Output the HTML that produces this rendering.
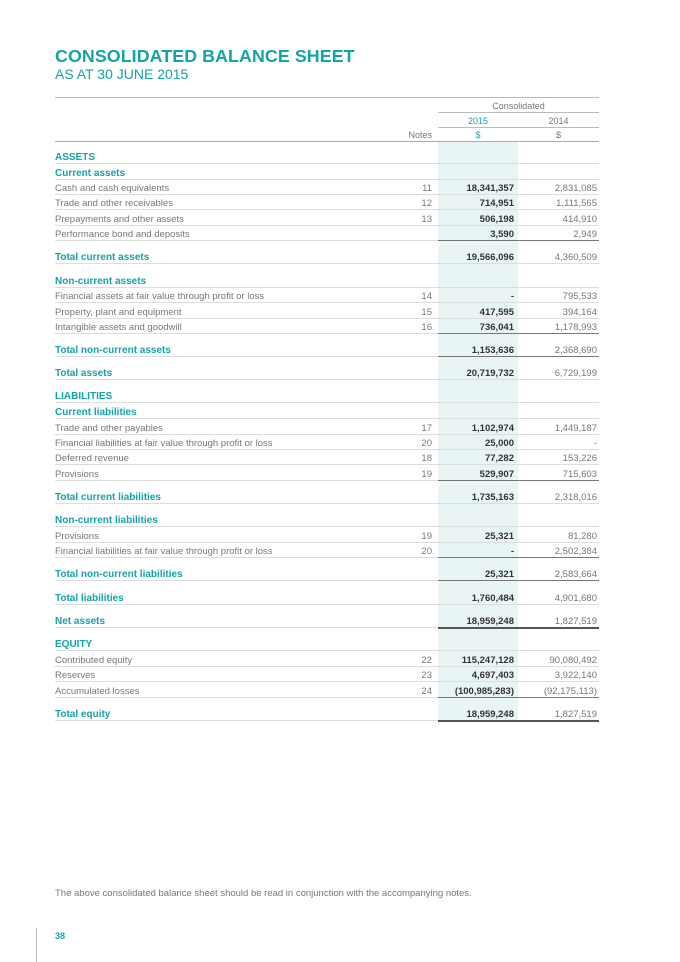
<!DOCTYPE html>
<html><head><meta charset="utf-8"><style>
body{margin:0;background:#fff;}
#p{position:relative;width:680px;height:962px;overflow:hidden;font-family:"Liberation Sans",sans-serif;}
.t{position:absolute;left:55px;top:46px;font-size:17.8px;font-weight:bold;color:#14a3a6;letter-spacing:0.1px}
.s{position:absolute;left:55px;top:66px;font-size:14px;color:#14a3a6}
.shade{position:absolute;left:438px;top:141px;width:80px;height:580px;background:#e9f5f5}
.r{position:absolute;left:55px;width:544px;height:15px;line-height:15px;font-size:9.5px;color:#777;border-bottom:1px solid #ddd}
.r span{position:absolute;top:2px}
.l{left:0}
.n{right:167px;text-align:right}
.a{right:85px;font-weight:bold;color:#333}
.b{right:2px}
.h{color:#14a3a6;font-weight:bold;font-size:10px}
.ln{position:absolute;height:0}
.d{position:absolute;left:438px;width:161px;height:0;border-top:1px solid #777}
</style></head><body><div id="p">
<div class="t">CONSOLIDATED BALANCE SHEET</div>
<div class="s">AS AT 30 JUNE 2015</div>
<div class="shade"></div>
<div class="ln" style="left:55px;top:97px;width:544px;border-top:1px solid #bbb"></div>
<div class="r" style="top:97px;left:438px;width:161px;text-align:center;border-bottom:1px solid #bbb;font-size:9px"><span style="left:0;width:161px;text-align:center">Consolidated</span></div>
<div class="r" style="top:112px;left:438px;width:161px;border-bottom:1px solid #bbb;font-size:9px"><span style="left:0;width:80px;text-align:center;color:#14a3a6">2015</span><span style="left:80px;width:81px;text-align:center">2014</span></div>
<div class="r" style="top:126px;border-bottom:1px solid #aaa;font-size:9px"><span class="n">Notes</span><span style="left:383px;width:80px;text-align:center;color:#14a3a6">$</span><span style="left:463px;width:81px;text-align:center">$</span></div>

<div class="r" style="top:148px"><span class="l h">ASSETS</span></div>
<div class="r" style="top:164px"><span class="l h">Current assets</span></div>
<div class="r" style="top:179px"><span class="l">Cash and cash equivalents</span><span class="n">11</span><span class="a">18,341,357</span><span class="b">2,831,085</span></div>
<div class="r" style="top:194px"><span class="l">Trade and other receivables</span><span class="n">12</span><span class="a">714,951</span><span class="b">1,111,565</span></div>
<div class="r" style="top:210px"><span class="l">Prepayments and other assets</span><span class="n">13</span><span class="a">506,198</span><span class="b">414,910</span></div>
<div class="r" style="top:225px"><span class="l">Performance bond and deposits</span><span class="a">3,590</span><span class="b">2,949</span></div>
<div class="d" style="top:240px"></div>
<div class="r" style="top:248px"><span class="l h">Total current assets</span><span class="a">19,566,096</span><span class="b">4,360,509</span></div>
<div class="r" style="top:272px"><span class="l h">Non-current assets</span></div>
<div class="r" style="top:287px"><span class="l">Financial assets at fair value through profit or loss</span><span class="n">14</span><span class="a">-</span><span class="b">795,533</span></div>
<div class="r" style="top:303px"><span class="l">Property, plant and equipment</span><span class="n">15</span><span class="a">417,595</span><span class="b">394,164</span></div>
<div class="r" style="top:318px"><span class="l">Intangible assets and goodwill</span><span class="n">16</span><span class="a">736,041</span><span class="b">1,178,993</span></div>
<div class="d" style="top:333px"></div>
<div class="r" style="top:341px"><span class="l h">Total non-current assets</span><span class="a">1,153,636</span><span class="b">2,368,690</span></div>
<div class="d" style="top:356px"></div>
<div class="r" style="top:364px"><span class="l h">Total assets</span><span class="a">20,719,732</span><span class="b">6,729,199</span></div>
<div class="r" style="top:387px"><span class="l h">LIABILITIES</span></div>
<div class="r" style="top:403px"><span class="l h">Current liabilities</span></div>
<div class="r" style="top:419px"><span class="l">Trade and other payables</span><span class="n">17</span><span class="a">1,102,974</span><span class="b">1,449,187</span></div>
<div class="r" style="top:434px"><span class="l">Financial liabilities at fair value through profit or loss</span><span class="n">20</span><span class="a">25,000</span><span class="b">-</span></div>
<div class="r" style="top:449px"><span class="l">Deferred revenue</span><span class="n">18</span><span class="a">77,282</span><span class="b">153,226</span></div>
<div class="r" style="top:465px"><span class="l">Provisions</span><span class="n">19</span><span class="a">529,907</span><span class="b">715,603</span></div>
<div class="d" style="top:480px"></div>
<div class="r" style="top:488px"><span class="l h">Total current liabilities</span><span class="a">1,735,163</span><span class="b">2,318,016</span></div>
<div class="r" style="top:511px"><span class="l h">Non-current liabilities</span></div>
<div class="r" style="top:527px"><span class="l">Provisions</span><span class="n">19</span><span class="a">25,321</span><span class="b">81,280</span></div>
<div class="r" style="top:542px"><span class="l">Financial liabilities at fair value through profit or loss</span><span class="n">20</span><span class="a">-</span><span class="b">2,502,384</span></div>
<div class="d" style="top:557px"></div>
<div class="r" style="top:565px"><span class="l h">Total non-current liabilities</span><span class="a">25,321</span><span class="b">2,583,664</span></div>
<div class="d" style="top:580px"></div>
<div class="r" style="top:589px"><span class="l h">Total liabilities</span><span class="a">1,760,484</span><span class="b">4,901,680</span></div>
<div class="r" style="top:612px"><span class="l h">Net assets</span><span class="a">18,959,248</span><span class="b">1,827,519</span></div>
<div class="ln" style="left:438px;top:627px;width:161px;border-top:2px solid #555"></div>
<div class="r" style="top:635px"><span class="l h">EQUITY</span></div>
<div class="r" style="top:651px"><span class="l">Contributed equity</span><span class="n">22</span><span class="a">115,247,128</span><span class="b">90,080,492</span></div>
<div class="r" style="top:666px"><span class="l">Reserves</span><span class="n">23</span><span class="a">4,697,403</span><span class="b">3,922,140</span></div>
<div class="r" style="top:682px"><span class="l">Accumulated losses</span><span class="n">24</span><span class="a">(100,985,283)</span><span class="b">(92,175,113)</span></div>
<div class="d" style="top:697px"></div>
<div class="r" style="top:705px"><span class="l h">Total equity</span><span class="a">18,959,248</span><span class="b">1,827,519</span></div>
<div class="ln" style="left:438px;top:720px;width:161px;border-top:2px solid #555"></div>

<div style="position:absolute;left:55px;top:888px;font-size:9.5px;color:#777">The above consolidated balance sheet should be read in conjunction with the accompanying notes.</div>
<div style="position:absolute;left:36px;top:928px;height:34px;border-left:1px solid #bbb"></div>
<div style="position:absolute;left:55px;top:931px;font-size:9px;font-weight:bold;color:#14a3a6">38</div>
</div></body></html>
